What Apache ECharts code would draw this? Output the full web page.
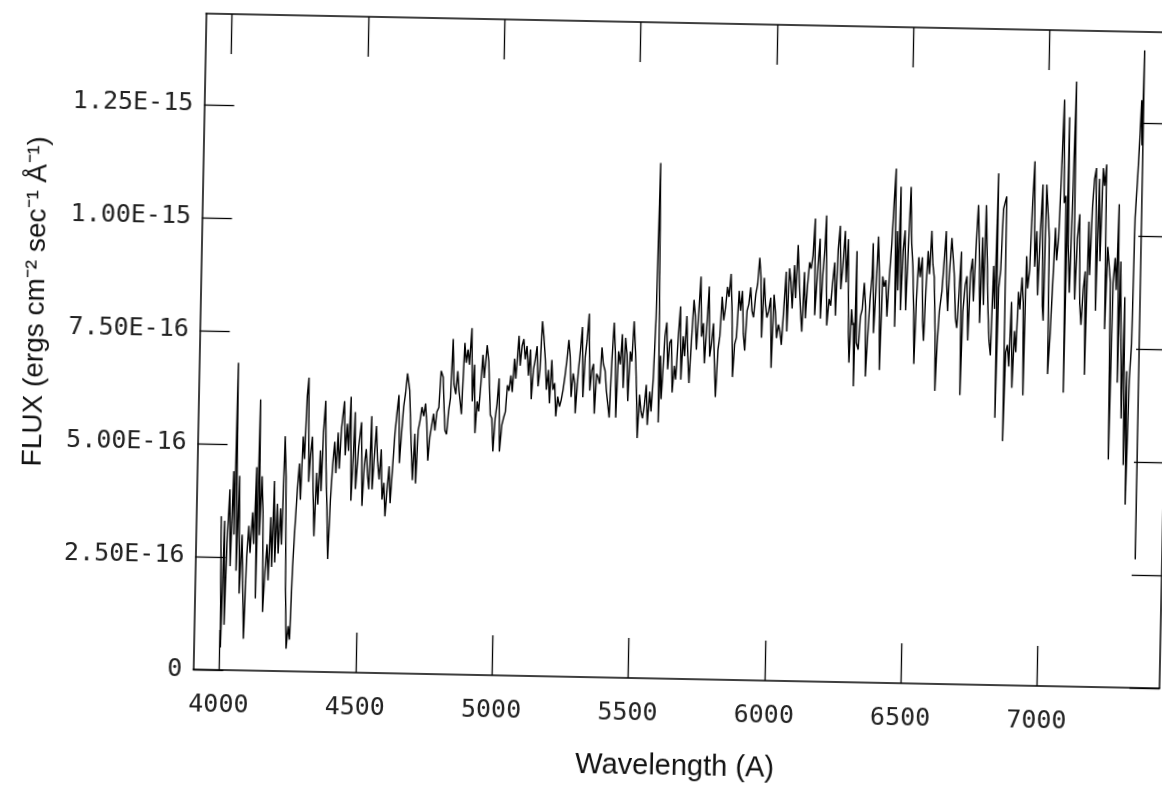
<!DOCTYPE html>
<html>
<head>
<meta charset="utf-8">
<script src="https://cdn.jsdelivr.net/npm/echarts@6/dist/echarts.min.js"></script>
<style>
  html, body { margin: 0; padding: 0; background: #fff; overflow: hidden; width: 1162px; height: 791px; }
  /* the scanned plot sits slightly tilted, so the whole chart is turned a bit */
  #chart { position: absolute; left: 0; top: 0; width: 1200px; height: 791px;
           transform-origin: 685.5px 350px; transform: rotate(1.12deg); }
</style>
</head>
<body>
<div id="chart"></div>
<script>
// wavelength (A) and flux in units of 1E-16 ergs cm-2 sec-1 A-1
const spectrum = [
  [3997,3.4],[4003,0.5],[4010,3.3],[4015,1.0],[4020,2.8],[4027,4.0],[4033,2.3],[4040,4.4],[4045,3.0],[4049,6.8],
  [4055,2.2],[4062,4.3],[4068,1.7],[4075,3.0],[4081,1.8],[4087,0.7],[4093,2.5],[4099,3.2],[4105,2.6],[4112,3.5],
  [4118,2.8],[4124,4.5],[4128,1.6],[4133,6.0],[4138,3.0],[4144,4.3],[4150,3.5],[4155,1.3],[4161,2.2],[4167,2.8],
  [4173,2.0],[4179,3.4],[4185,2.3],[4190,4.2],[4196,2.4],[4202,3.7],[4208,2.6],[4214,3.6],[4220,2.8],[4226,5.2],
  [4232,4.3],[4238,1.8],[4244,0.5],[4250,1.0],[4256,0.7],[4262,2.3],[4268,3.2],[4274,4.0],[4280,4.6],[4286,3.8],
  [4292,5.2],[4298,4.7],[4304,6.1],[4309,6.5],[4315,4.2],[4320,4.8],[4326,5.2],[4332,4.0],[4338,3.0],[4344,4.4],
  [4350,3.7],[4356,4.9],[4361,4.0],[4366,5.3],[4372,6.0],[4378,4.5],[4384,3.6],[4390,2.5],[4396,3.8],[4402,4.6],
  [4408,5.1],[4414,4.4],[4420,5.3],[4426,4.5],[4432,5.4],[4441,6.0],[4447,4.8],[4453,5.5],[4459,4.9],[4465,6.1],
  [4471,3.8],[4477,4.8],
  [4481,5.76],[4487,4.06],[4496,5.0],[4505,5.54],[4512,3.69],[4518,4.6],[4524,4.95],[4530,4.4],[4536,4.06],[4542,5.68],
  [4548,4.06],[4554,4.8],[4560,5.46],[4566,4.7],[4573,4.28],[4579,4.95],[4585,3.84],[4591,4.21],[4597,3.47],[4603,4.06],
  [4609,4.58],[4615,3.76],[4622,4.6],[4628,5.31],[4634,5.76],[4640,6.16],[4646,4.65],[4652,5.31],[4658,5.9],[4664,6.2],
  [4670,6.64],[4679,6.27],[4689,4.95],[4695,4.28],[4701,5.31],[4707,4.21],[4713,5.39],[4719,5.6],[4725,5.9],[4732,5.7],
  [4738,5.98],[4744,5.54],[4750,4.72],[4756,5.24],[4762,5.5],[4768,5.76],[4774,5.39],[4780,5.8],[4787,5.9],[4793,6.71],
  [4801,6.57],[4807,5.8],[4811,5.39],[4817,5.31],[4823,5.83],[4829,6.12],[4835,7.42],[4841,6.42],[4848,6.2],[4854,6.71],
  [4860,6.27],[4870,5.76],[4878,7.34],[4884,6.9],[4890,7.19],[4896,6.86],[4903,7.67],[4909,6.05],[4915,6.86],[4921,5.35],
  [4927,6.05],[4933,5.83],[4939,6.4],[4945,7.08],[4951,6.57],[4960,7.3],[4967,6.93],[4976,5.76],[4982,5.68],[4988,4.95],
  [4994,5.68],[5000,6.0],[5006,6.57],[5012,4.95],[5019,5.54],[5025,5.7],[5031,5.83],[5037,6.42],[5043,6.3],[5049,6.64],
  [5055,6.27],[5061,7.01],[5067,6.57],
  [5076,7.52],[5082,6.86],[5088,7.3],[5094,7.45],[5100,7.0],[5106,7.3],[5113,6.64],[5119,7.22],[5125,6.12],[5131,6.78],
  [5137,7.0],[5143,7.3],[5149,6.41],[5155,6.78],[5161,7.85],[5167,7.52],[5174,7.0],[5180,6.34],[5186,6.78],[5192,6.04],
  [5198,7.0],[5204,6.34],[5210,6.49],[5216,5.75],[5222,6.19],[5229,5.97],[5235,6.12],[5241,6.34],[5247,6.64],[5253,7.0],
  [5259,7.45],[5265,7.08],[5271,6.19],[5277,6.71],[5284,6.49],[5287,5.83],[5296,6.78],[5302,7.22],[5308,7.74],[5314,6.19],
  [5320,7.08],[5326,7.45],[5332,8.04],[5339,6.34],[5345,6.78],[5351,6.93],[5357,5.83],[5363,6.71],[5369,6.64],[5375,6.49],
  [5381,7.3],[5387,6.93],[5394,6.78],[5400,6.34],[5406,6.04],[5412,5.75],[5418,7.0],[5424,7.85],[5430,7.22],[5436,5.75],
  [5442,7.22],[5449,6.93],[5455,7.6],[5461,6.41],[5467,7.52],[5473,7.15],[5479,6.12],[5485,7.22],[5491,7.0],[5497,7.89],
  [5504,7.22],[5510,6.41],[5516,5.31],[5522,6.27],[5528,5.9],[5534,5.75],[5540,6.04],[5546,6.49],[5552,5.6],[5559,6.34],
  [5565,5.9],[5571,6.64],[5577,7.96],[5583,11.4],
  [5589,8.03],[5592,5.66],[5596,7.14],[5601,6.18],[5605,6.7],[5611,7.58],[5617,7.88],[5623,6.84],[5629,7.43],[5635,7.51],
  [5641,6.33],[5647,6.92],[5653,6.62],[5660,7.58],[5666,8.24],[5672,6.62],[5678,7.58],[5684,7.14],[5690,8.03],[5696,7.14],
  [5702,6.55],[5708,7.43],[5715,8.39],[5721,8.03],[5727,7.29],[5733,8.1],[5739,8.91],[5745,7.58],[5751,7.88],[5757,6.99],
  [5763,7.73],[5770,8.69],[5776,7.14],[5782,7.43],[5788,7.88],[5794,6.99],[5800,6.25],[5806,7.29],[5812,7.6],[5818,8.47],
  [5825,7.95],[5831,8.24],[5837,8.69],[5843,8.47],[5849,8.98],[5855,8.17],[5861,6.7],[5867,7.43],[5873,7.58],[5880,8.61],
  [5886,8.17],[5892,8.61],[5898,7.66],[5904,7.29],[5910,8.17],[5916,8.32],[5922,8.69],[5928,8.17],[5934,8.03],[5941,8.54],
  [5947,8.76],[5953,9.35],[5959,8.91],[5965,7.58],[5971,8.91],[5977,8.32],[5983,8.03],[5989,8.17],[5996,8.47],[6002,6.92],
  [6008,8.54],[6014,8.17],[6020,7.58],[6026,7.88],[6032,7.73],[6038,7.43],[6044,8.17],[6051,9.05],[6057,7.73],[6063,9.13],
  [6069,8.83],[6075,8.24],[6081,9.2],[6087,8.47],[6093,9.65],[6099,8.91],[6106,8.17],[6112,7.73],[6118,9.05],[6124,8.03],
  [6130,8.76],[6136,9.27],[6142,9.13],[6148,9.42],[6154,10.24],[6158,8.1],
  [6167,9.21],[6173,9.8],[6179,8.03],[6185,8.99],[6191,9.57],[6195,10.31],[6200,8.62],[6203,7.88],[6210,8.47],[6216,8.32],
  [6222,8.84],[6228,9.28],[6234,8.1],[6240,9.57],[6246,10.09],[6252,8.69],[6258,9.21],[6265,9.98],[6271,8.84],[6277,9.8],
  [6283,7.73],[6287,7.07],[6293,8.25],[6298,7.9],[6301,7.95],[6305,6.55],[6309,9.54],[6313,7.51],[6320,7.36],[6326,8.1],
  [6332,8.25],[6338,8.84],[6344,8.32],[6348,6.77],[6354,7.66],[6360,8.47],[6366,8.99],[6368,9.72],[6375,7.73],[6381,8.69],
  [6387,9.87],[6393,8.99],[6399,6.92],[6405,8.99],[6411,8.76],[6417,8.91],[6423,8.1],[6430,9.06],[6436,9.72],[6442,10.68],
  [6447,11.38],[6452,7.88],[6456,10.0],[6461,8.69],[6466,10.98],[6472,8.25],[6478,9.57],[6484,10.02],[6491,8.25],[6497,9.65],
  [6503,10.98],[6509,9.72],[6515,9.21],[6521,8.18],[6525,7.07],[6530,8.47],[6536,9.43],[6542,8.99],[6549,9.43],[6554,8.03],
  [6559,7.58],[6564,8.69],[6570,9.57],[6576,9.06],[6582,10.02],[6588,9.28],[6594,8.99],[6601,7.73],[6604,6.48],[6609,7.51],
  [6615,8.25],[6623,8.69],[6627,9.13],[6635,10.02],[6640,8.84],[6645,8.25],[6649,9.06],[6656,9.87],[6662,9.43],[6668,8.99],
  [6674,8.1],[6680,7.88],[6686,8.69],[6692,9.57],[6696,6.4],[6701,8.25],[6708,8.84],
  [6714,9.03],[6721,7.61],[6727,9.11],[6733,9.42],[6739,8.48],[6745,9.66],[6751,10.61],[6757,9.74],[6763,8.0],[6769,9.9],
  [6776,8.4],[6780,10.61],[6787,9.42],[6793,8.32],[6799,7.61],[6805,7.29],[6811,9.27],[6817,8.32],[6823,11.32],[6826,5.91],
  [6831,8.79],[6837,9.19],[6843,10.53],[6849,10.69],[6854,10.81],[6856,5.4],[6861,7.37],[6867,7.53],[6873,7.05],[6879,8.48],
  [6886,6.58],[6892,7.84],[6898,7.37],[6904,8.71],[6910,8.32],[6916,9.03],[6922,8.48],[6927,6.42],[6931,9.5],[6937,8.79],
  [6943,9.19],[6949,10.61],[6955,11.6],[6961,9.27],[6967,10.06],[6974,8.64],[6980,10.06],[6986,11.09],[6992,8.4],[6996,8.08],
  [7000,11.09],[7007,11.09],[7013,9.9],[7016,6.9],[7022,7.69],[7028,8.79],[7035,10.14],[7041,9.42],[7047,9.9],[7053,11.32],
  [7059,12.98],[7065,10.69],[7071,10.85],[7075,6.5],[7079,12.59],[7083,9.74],[7090,8.71],[7096,10.85],[7102,13.38],[7105,9.9],
  [7110,8.56],[7116,9.9],[7123,10.45],[7129,8.48],[7135,8.0],[7141,8.79],[7147,9.19],[7151,6.9],[7157,10.29],[7163,9.11],
  [7169,10.61],[7175,11.24],[7181,11.48],[7187,8.32],[7193,11.24],[7200,9.42],[7206,11.48],[7212,11.09],[7218,11.56],[7222,7.92],
  [7228,9.74],[7234,9.35],[7240,8.95],[7245,5.04],[7250,8.95],[7256,9.5],[7262,8.79],[7267,10.69],[7272,6.74],[7277,9.42],
  [7283,7.69],[7289,5.95],[7294,8.64],[7300,4.92],[7306,7.0],[7310,4.05],[7316,6.8],[7322,7.6],[7326,10.4],[7332,11.2],
  [7338,12.2],[7342,13.0],[7346,12.0],[7349,14.1],[7351,2.84]
];

const waveTicks = [4000, 4500, 5000, 5500, 6000, 6500, 7000];
const fluxTicks = [0, 2.5, 5, 7.5, 10, 12.5];

const fmtWave = function (v) {
  return String(v);
};
const fmtFlux = function (v) {
  if (v === 0) return '0';
  return (v * 1e-16).toExponential(2).toUpperCase();
};

const frame = { show: true, onZero: false, lineStyle: { color: '#000', width: 1.5 } };
const tickStyle = { color: '#000', width: 1.3 };
const labelFont = { fontFamily: 'DejaVu Sans Mono', fontSize: 25, color: '#222' };

const chart = echarts.init(document.getElementById('chart'), null, { renderer: 'canvas' });

const option = {
  animation: false,
  backgroundColor: '#fff',
  grid: { left: 199.5, top: 23, right: 34, bottom: 112, containLabel: false, outerBoundsMode: 'none' },
  xAxis: [
    {
      type: 'value', min: 3905, max: 7449, position: 'bottom',
      axisLine: frame,
      axisTick: { inside: true, length: 40, customValues: waveTicks, lineStyle: tickStyle },
      axisLabel: Object.assign({ customValues: waveTicks, margin: 23, formatter: fmtWave }, labelFont),
      splitLine: { show: false },
      name: 'Wavelength (A)', nameLocation: 'middle', nameGap: 73,
      nameTextStyle: { fontFamily: 'Liberation Sans', fontSize: 29, color: '#111' }
    },
    {
      type: 'value', min: 3905, max: 7449, position: 'top',
      axisLine: frame,
      axisTick: { inside: true, length: 40, customValues: waveTicks, lineStyle: tickStyle },
      axisLabel: { show: false },
      splitLine: { show: false }
    }
  ],
  yAxis: [
    {
      type: 'value', min: 0, max: 14.51, position: 'left',
      axisLine: frame,
      axisTick: { inside: true, length: 30, customValues: fluxTicks, lineStyle: tickStyle },
      axisLabel: Object.assign({ customValues: fluxTicks, margin: 11, formatter: fmtFlux }, labelFont),
      splitLine: { show: false },
      name: 'FLUX (ergs cm⁻² sec⁻¹ Å⁻¹)', nameLocation: 'middle', nameRotate: 90, nameGap: 150,
      nameTextStyle: { fontFamily: 'Liberation Sans', fontSize: 28, color: '#111', padding: [0, 0, 0, 74] }
    },
    {
      type: 'value', min: 0, max: 14.51, position: 'right',
      axisLine: frame,
      axisTick: { inside: true, length: 30, customValues: fluxTicks, lineStyle: tickStyle },
      axisLabel: { show: false },
      splitLine: { show: false }
    }
  ],
  series: [
    {
      type: 'line',
      xAxisIndex: 0,
      yAxisIndex: 0,
      data: spectrum,
      showSymbol: false,
      silent: true,
      lineStyle: { color: '#000', width: 1.4 }
    }
  ]
};

chart.setOption(option);
</script>
</body>
</html>
